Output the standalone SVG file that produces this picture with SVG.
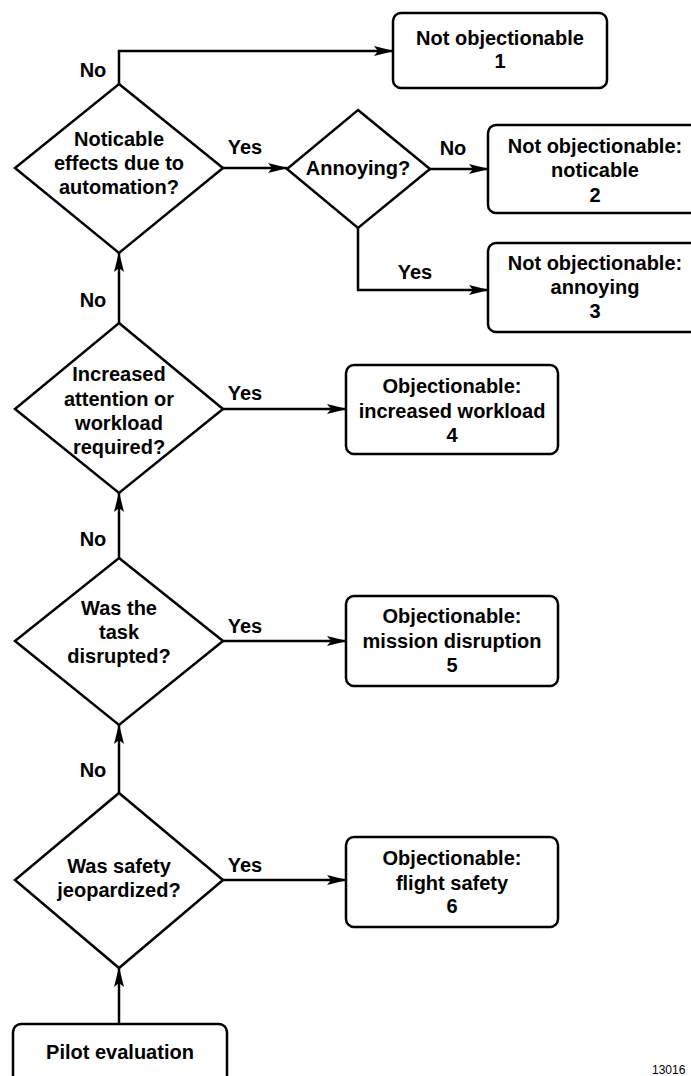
<svg xmlns="http://www.w3.org/2000/svg" width="691" height="1076" viewBox="0 0 691 1076">
<style>
  .shape { fill: #ffffff; stroke: #000000; stroke-width: 2.5; }
  .conn { fill: none; stroke: #000000; stroke-width: 2.5; marker-end: url(#arrow); }
  text { font-family: "Liberation Sans", Arial, Helvetica, sans-serif; font-weight: bold; font-size: 20px; fill: #000000; text-anchor: middle; }
  .id { font-weight: normal; font-size: 12px; text-anchor: start; }
</style>
<defs>
  <marker id="arrow" markerUnits="userSpaceOnUse" markerWidth="20" markerHeight="12" refX="19" refY="5" orient="auto">
    <path d="M0,0 L20,5 L0,10 L4,5 z" fill="#000000"/>
  </marker>
</defs>
<rect width="691" height="1076" fill="#ffffff"/>

<g id="connectors">
  <polyline class="conn" points="119,84 119,51 393,51"/>
  <line class="conn" x1="223" y1="168" x2="287" y2="168"/>
  <line class="conn" x1="430" y1="169" x2="488" y2="169"/>
  <polyline class="conn" points="358,228 358,290 488,290"/>
  <line class="conn" x1="119" y1="323" x2="119" y2="253"/>
  <line class="conn" x1="223" y1="409" x2="346" y2="409"/>
  <line class="conn" x1="119" y1="558" x2="119" y2="493"/>
  <line class="conn" x1="223" y1="641" x2="346" y2="641"/>
  <line class="conn" x1="119" y1="793" x2="119" y2="725"/>
  <line class="conn" x1="223" y1="880" x2="346" y2="880"/>
  <line class="conn" x1="119" y1="1024" x2="119" y2="968"/>
  <text x="93" y="77">No</text>
  <text x="245" y="154">Yes</text>
  <text x="453" y="155">No</text>
  <text x="415" y="279">Yes</text>
  <text x="93" y="307">No</text>
  <text x="245" y="400">Yes</text>
  <text x="93" y="546">No</text>
  <text x="245" y="633">Yes</text>
  <text x="93" y="777">No</text>
  <text x="245" y="872">Yes</text>
</g>

<g id="d-noticable">
  <polygon class="shape" points="119,84 223,168 119,253 15,168"/>
  <text x="119" y="146">Noticable</text>
  <text x="119" y="170">effects due to</text>
  <text x="119" y="194">automation?</text>
</g>
<g id="d-annoying">
  <polygon class="shape" points="358,110 430,169 358,228 287,169"/>
  <text x="358" y="175">Annoying?</text>
</g>
<g id="d-increased">
  <polygon class="shape" points="119,323 223,409 119,493 15,409"/>
  <text x="119" y="381">Increased</text>
  <text x="119" y="406">attention or</text>
  <text x="119" y="430">workload</text>
  <text x="119" y="454">required?</text>
</g>
<g id="d-task">
  <polygon class="shape" points="119,558 223,641 119,725 15,641"/>
  <text x="119" y="615">Was the</text>
  <text x="119" y="639">task</text>
  <text x="119" y="663">disrupted?</text>
</g>
<g id="d-safety">
  <polygon class="shape" points="119,793 223,880 119,968 15,880"/>
  <text x="119" y="873">Was safety</text>
  <text x="119" y="897">jeopardized?</text>
</g>

<g id="box1">
  <rect class="shape" x="393" y="13" width="214" height="75" rx="8"/>
  <text x="500" y="45">Not objectionable</text>
  <text x="500" y="68">1</text>
</g>
<g id="box2">
  <rect class="shape" x="488" y="125" width="210" height="88" rx="8"/>
  <text x="595" y="153">Not objectionable:</text>
  <text x="595" y="177">noticable</text>
  <text x="595" y="202">2</text>
</g>
<g id="box3">
  <rect class="shape" x="488" y="243" width="210" height="89" rx="8"/>
  <text x="595" y="270">Not objectionable:</text>
  <text x="595" y="294">annoying</text>
  <text x="595" y="318">3</text>
</g>
<g id="box4">
  <rect class="shape" x="346" y="365" width="212" height="89" rx="8"/>
  <text x="452" y="393">Objectionable:</text>
  <text x="452" y="418">increased workload</text>
  <text x="452" y="442">4</text>
</g>
<g id="box5">
  <rect class="shape" x="346" y="596" width="212" height="90" rx="8"/>
  <text x="452" y="623">Objectionable:</text>
  <text x="452" y="648">mission disruption</text>
  <text x="452" y="672">5</text>
</g>
<g id="box6">
  <rect class="shape" x="346" y="837" width="212" height="90" rx="8"/>
  <text x="452" y="865">Objectionable:</text>
  <text x="452" y="890">flight safety</text>
  <text x="452" y="913">6</text>
</g>
<g id="pilot">
  <rect class="shape" x="13" y="1024" width="214" height="70" rx="8"/>
  <text x="120" y="1059">Pilot evaluation</text>
</g>
<text class="id" x="652" y="1074">13016</text>
</svg>
